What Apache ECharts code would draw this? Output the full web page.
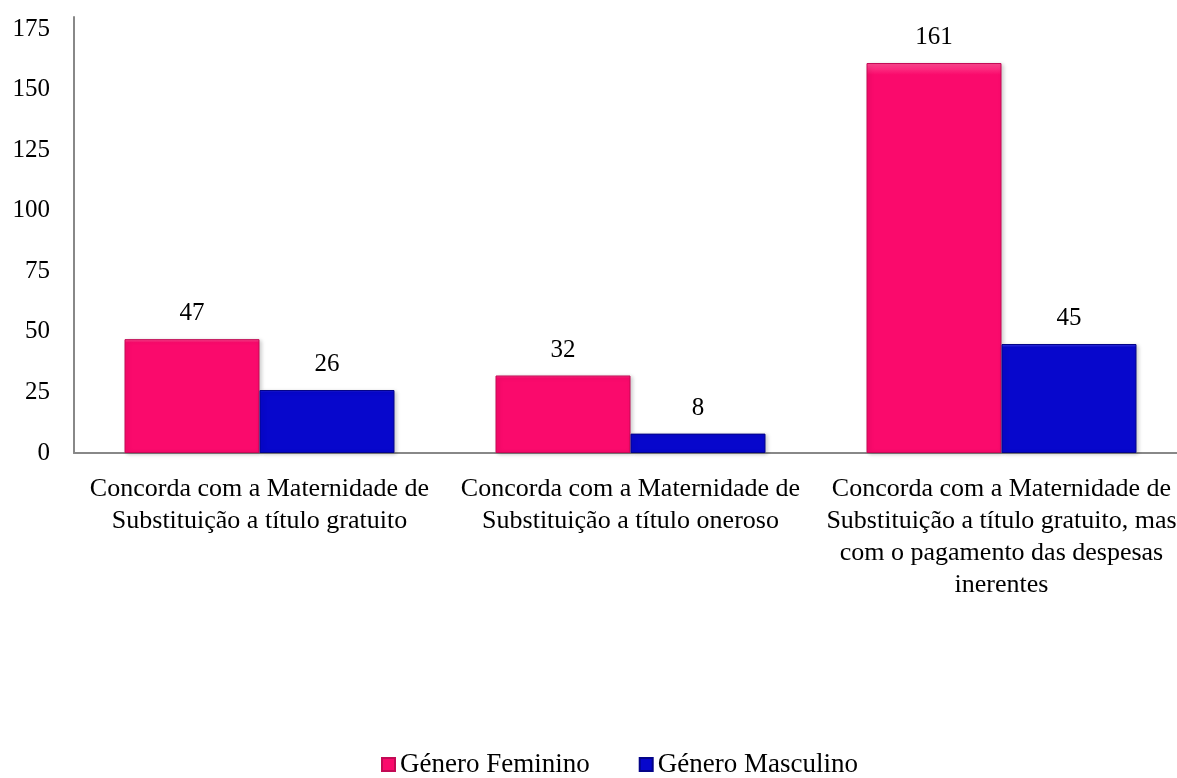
<!DOCTYPE html>
<html>
<head>
<meta charset="utf-8">
<script src="https://cdn.jsdelivr.net/npm/echarts@6/dist/echarts.min.js"></script>
<style>
  html, body { margin: 0; padding: 0; background: #fff; overflow: hidden; }
  #main { width: 1192px; height: 778px; }
</style>
</head>
<body>
<div id="main"></div>
<script>
// categorias (eixo x)
var categorias = [
    'Concorda com a Maternidade de\nSubstituição a título gratuito',
    'Concorda com a Maternidade de\nSubstituição a título oneroso',
    'Concorda com a Maternidade de\nSubstituição a título gratuito, mas\ncom o pagamento das despesas\ninerentes'
];
var feminino = [47, 32, 161];
var masculino = [26, 8, 45];
var nomes = ['Género Feminino', 'Género Masculino'];
var cores = ['#fa0a6c', '#0707cc'];
var claras = ['#ff4a92', '#3a3ae6'];
var bordas = ['#c30a55', '#040488'];

var myChart = echarts.init(document.getElementById('main'));
var fonte = '"Liberation Serif", "Times New Roman", serif';

function barra(nome, dados, i) {
    return {
        name: nome,
        type: 'bar',
        data: dados,
        barWidth: 135,
        barGap: '0%',
        itemStyle: {
            color: {
                type: 'linear', x: 0, y: 0, x2: 0, y2: 1, global: false,
                colorStops: [
                    {offset: 0, color: claras[i]},
                    {offset: 0.03, color: cores[i]},
                    {offset: 1, color: cores[i]}
                ]
            },
            borderColor: bordas[i],
            borderWidth: 1,
            shadowColor: 'rgba(0,0,0,0.2)',
            shadowBlur: 4,
            shadowOffsetX: 2,
            shadowOffsetY: 1
        },
        label: {
            show: true,
            position: 'top',
            distance: 13,
            color: '#000',
            fontFamily: fonte,
            fontSize: 25
        }
    };
}

var option = {
    animation: false,
    textStyle: { fontFamily: fonte },
    grid: {
        left: 74,
        top: 17,
        width: 1113,
        height: 436,
        containLabel: false
    },
    legend: {
        data: nomes,
        top: 746,
        left: 376,
        itemWidth: 13,
        itemHeight: 13,
        itemGap: 49,
        icon: 'rect',
        textStyle: { fontFamily: fonte, fontSize: 27, color: '#000' }
    },
    xAxis: {
        type: 'category',
        data: categorias,
        axisLine: { lineStyle: { color: '#888', width: 2 } },
        axisTick: { show: false },
        axisLabel: {
            interval: 0,
            margin: 20,
            color: '#000',
            fontFamily: fonte,
            fontSize: 26,
            lineHeight: 32
        }
    },
    yAxis: {
        type: 'value',
        min: 0,
        max: 180,
        interval: 25,
        splitLine: { show: false },
        axisTick: { show: false },
        axisLine: { show: true, lineStyle: { color: '#888', width: 2 } },
        axisLabel: {
            showMaxLabel: false,
            margin: 24,
            color: '#000',
            fontFamily: fonte,
            fontSize: 25
        }
    },
    series: [
        barra(nomes[0], feminino, 0),
        barra(nomes[1], masculino, 1)
    ]
};

myChart.setOption(option);
window.onresize = myChart.resize;
</script>
</body>
</html>
